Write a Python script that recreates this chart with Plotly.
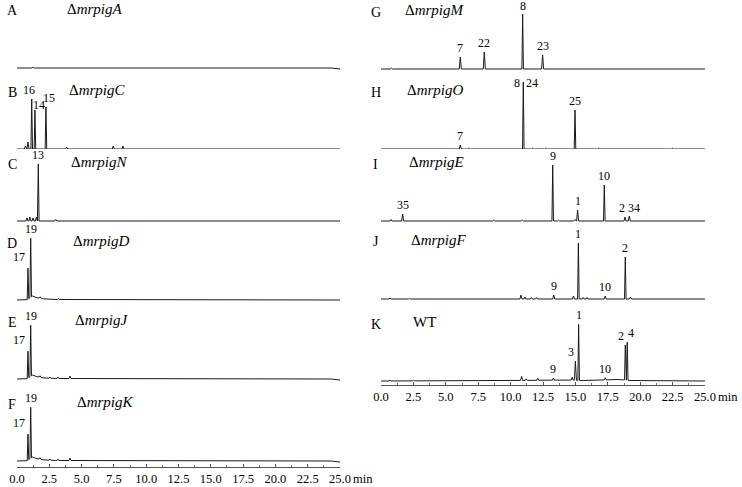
import plotly.graph_objects as go

W, H = 742, 487
FONT = "'Liberation Serif', 'Times New Roman', Times, serif"

# ---------------- data (retention time in min, relative height) ----------------
# left column
A_peaks_t = [1.25]
A_peaks_h = [1.0]
A_base = [(0, 0), (24.3, 0), (25, -1.0)]

B_peaks_t = [0.65, 0.85, 1.14, 1.39, 2.24, 3.85, 7.45, 8.2]
B_peaks_h = [3, 7, 50, 39, 42, 2, 3, 3]
B_base = [(0, 0), (25, 0)]
B_labels = {"16": 1.14, "14": 1.39, "15": 2.24}

C_peaks_t = [0.77, 1.0, 1.24, 1.5, 1.65, 3.0]
C_peaks_h = [3, 4, 3, 4, 57, 1.5]
C_base = [(0, 0), (25, 0)]
C_labels = {"13": 1.65}

D_peaks_t = [0.85, 1.06, 1.8, 3.2]
D_peaks_h = [31, 59, 1.5, 1.0]
D_base = [(0, 0), (0.75, 0), (1.2, 4), (1.5, 2.5), (2.0, 1.2), (3.0, 0.5), (25, 0)]
D_labels = {"17": 0.85, "19": 1.06}

E_peaks_t = [0.85, 1.06, 1.78, 2.55, 3.17, 4.1]
E_peaks_h = [27, 51, 1.5, 1.2, 1.5, 2.5]
E_base = [(0, 0), (0.75, 0), (1.2, 4), (1.5, 2.5), (2.0, 1.2), (3.0, 0.5), (24.3, 0), (25, -1.0)]
E_labels = {"17": 0.85, "19": 1.06}

F_peaks_t = [0.85, 1.06, 1.78, 2.55, 3.17, 4.1]
F_peaks_h = [26, 51, 1.5, 1.2, 1.5, 2.5]
F_base = [(0, 0), (0.75, 0), (1.2, 4), (1.5, 2.5), (2.0, 1.2), (3.0, 0.5), (24.3, 0), (25, -1.0)]
F_labels = {"17": 0.85, "19": 1.06}

# right column
G_peaks_t = [0.8, 6.12, 7.97, 10.93, 12.47]
G_peaks_h = [1, 12, 17, 55, 14]
G_base = [(0, 0), (25, 0)]
G_labels = {"7": 6.12, "22": 7.97, "8": 10.93, "23": 12.47}

H_peaks_t = [6.12, 6.77, 10.98, 11.7, 12.7, 14.97, 16.8, 22.5]
H_peaks_h = [4, 1, 67, 1, 1, 39, 1, 0.8]
H_base = [(0, 0), (25, 0)]
H_labels = {"7": 6.12, "8": 10.98, "24": 10.98, "25": 14.97}

I_peaks_t = [0.77, 1.67, 8.7, 10.9, 13.25, 13.7, 14.95, 15.17, 17.23, 18.83, 19.16]
I_peaks_h = [1.5, 7, 1, 1, 56, 1, 1.5, 11, 36, 4, 5]
I_base = [(0, 0), (25, 0)]
I_labels = {"35": 1.67, "9": 13.25, "1": 15.17, "10": 17.23, "2": 18.83, "34": 19.16}

J_peaks_t = [0.7, 2.2, 10.8, 11.1, 11.6, 12.0, 13.33, 14.85, 15.23, 15.6, 15.9, 17.3, 18.85, 19.25]
J_peaks_h = [0.8, 0.6, 4, 2, 1.5, 1.5, 4, 3, 56, 1.5, 1.5, 3, 42, 2]
J_base = [(0, 0), (25, 0)]
J_labels = {"9": 13.33, "1": 15.23, "10": 17.3, "2": 18.85}

K_peaks_t = [0.7, 2.5, 10.85, 11.2, 12.1, 13.3, 14.75, 15.0, 15.25, 17.3, 18.85, 19.0, 22.5]
K_peaks_h = [0.8, 0.6, 4, 1.5, 2, 2, 3, 19, 56, 2, 35, 38, 0.5]
K_base = [(0, 0), (10, 0.5), (14.5, 1), (15.6, 0.5), (18.3, 1.5), (19.3, 0.5), (25, 0)]
K_labels = {"9": 13.3, "3": 15.0, "1": 15.25, "10": 17.3, "2": 18.85, "4": 19.0}

tick_vals = [0, 2.5, 5, 7.5, 10, 12.5, 15, 17.5, 20, 22.5, 25]
tick_text = ["0.0", "2.5", "5.0", "7.5", "10.0", "12.5", "15.0", "17.5", "20.0", "22.5", "25.0"]

# ---------------- layout / styling ----------------
panels = [
    # letter, title, column, baseline px, peaks t, peaks h, base, labels
    ("A", "Δ<i>mrpigA</i>", 0, 68, A_peaks_t, A_peaks_h, A_base, {}),
    ("B", "Δ<i>mrpigC</i>", 0, 149, B_peaks_t, B_peaks_h, B_base, B_labels),
    ("C", "Δ<i>mrpigN</i>", 0, 221, C_peaks_t, C_peaks_h, C_base, C_labels),
    ("D", "Δ<i>mrpigD</i>", 0, 300, D_peaks_t, D_peaks_h, D_base, D_labels),
    ("E", "Δ<i>mrpigJ</i>", 0, 379, E_peaks_t, E_peaks_h, E_base, E_labels),
    ("F", "Δ<i>mrpigK</i>", 0, 461, F_peaks_t, F_peaks_h, F_base, F_labels),
    ("G", "Δ<i>mrpigM</i>", 1, 69, G_peaks_t, G_peaks_h, G_base, G_labels),
    ("H", "Δ<i>mrpigO</i>", 1, 149, H_peaks_t, H_peaks_h, H_base, H_labels),
    ("I", "Δ<i>mrpigE</i>", 1, 221, I_peaks_t, I_peaks_h, I_base, I_labels),
    ("J", "Δ<i>mrpigF</i>", 1, 299, J_peaks_t, J_peaks_h, J_base, J_labels),
    ("K", "WT", 1, 381, K_peaks_t, K_peaks_h, K_base, K_labels),
]

# label offsets (px): (xshift, yshift, xanchor)
label_style = {
    ("B", "16"): (-3, 0, "center"), ("B", "14"): (4, -4, "center"), ("B", "15"): (3, 0, "center"),
    ("D", "17"): (-1, 2, "right"), ("E", "17"): (-1, 2, "right"), ("F", "17"): (-1, 2, "right"),
    ("G", "8"): (0, -1, "center"),
    ("H", "8"): (-6, -10, "center"), ("H", "24"): (9, -10, "center"),
    ("I", "2"): (-3, 0, "center"), ("I", "34"): (5, -1, "center"),
    ("K", "3"): (-4, 0, "center"), ("K", "2"): (-4, 0, "center"), ("K", "4"): (4, 0, "center"),
}

col_x = [(17, 340), (381, 705)]          # pixel span for 0..25 min
col_letter_x = [12, 376]
col_title_x = [65, 403]
axis_y = [467, 385]


def px_x(p):
    return p / W


def px_y(p):
    return 1 - p / H


def base_at(base, t):
    for (t0, y0), (t1, y1) in zip(base[:-1], base[1:]):
        if t0 <= t <= t1:
            return y0 + (y1 - y0) * (t - t0) / (t1 - t0) if t1 > t0 else y0
    return base[-1][1]


def build_trace(pt, ph, base):
    widths = [0.06 if h > 20 else 0.08 for h in ph]
    ts = set(t for t, _ in base)
    for t, w in zip(pt, widths):
        ts.update([t - w, t, t + w])
    ts = sorted(x for x in ts if 0 <= x <= 25)
    ys = []
    for t in ts:
        y = base_at(base, t)
        for tp, hp, w in zip(pt, ph, widths):
            d = abs(t - tp)
            if d < w:
                y += hp * (1 - d / w)
        ys.append(y)
    return ts, ys


fig = go.Figure()
annotations = []
layout_axes = {}

for i, (letter, title, col, bl, pt, ph, base, labels) in enumerate(panels):
    k = i + 1
    yname = "yaxis" if k == 1 else f"yaxis{k}"
    yref = "y" if k == 1 else f"y{k}"
    xref = "x" if col == 0 else "x2"
    top_px = max(0, bl - 72)
    span = bl - top_px
    layout_axes[yname] = dict(
        domain=[px_y(bl + 3), px_y(top_px)],
        range=[-3, span], visible=False, fixedrange=True,
        anchor=xref,
    )
    ts, ys = build_trace(pt, ph, base)
    fig.add_trace(go.Scatter(
        x=ts, y=ys, mode="lines", xaxis=xref, yaxis=yref,
        line=dict(color="#1a1a1a", width=1), hoverinfo="skip", showlegend=False,
    ))
    # panel letter
    annotations.append(dict(
        x=px_x(col_letter_x[col]), y=px_y(bl - 57), xref="paper", yref="paper",
        text=letter, showarrow=False, xanchor="center", yanchor="middle",
        font=dict(family=FONT, size=14, color="black"),
    ))
    # panel title
    annotations.append(dict(
        x=px_x(col_title_x[col] + 2 * (i % 6 if col == 0 else (i - 6))), y=px_y(bl - 59),
        xref="paper", yref="paper",
        text=title, showarrow=False, xanchor="left", yanchor="middle",
        font=dict(family=FONT, size=15, color="black"),
    ))
    # peak labels
    for lab, t in labels.items():
        idx = pt.index(t)
        yv = base_at(base, t) + ph[idx]
        xs, yshift, xa = label_style.get((letter, lab), (0, 0, "center"))
        annotations.append(dict(
            x=t, y=yv, xref=xref, yref=yref, text=lab, showarrow=False,
            xanchor=xa, yanchor="bottom", xshift=xs, yshift=yshift,
            font=dict(family=FONT, size=12, color="black"),
        ))

for c in range(2):
    xname = "xaxis" if c == 0 else "xaxis2"
    layout_axes[xname] = dict(
        domain=[px_x(col_x[c][0]), px_x(col_x[c][1])],
        range=[0, 25], anchor="free", position=px_y(axis_y[c]),
        showline=True, linecolor="#555", linewidth=1,
        ticks="inside", ticklen=3, tickcolor="#555",
        tickvals=tick_vals, ticktext=tick_text,
        minor=dict(tickvals=[v + 1.25 for v in tick_vals[:-1]], ticks="inside", ticklen=2, tickcolor="#777"),
        showgrid=False, zeroline=False, fixedrange=True, automargin=False,
        tickfont=dict(family=FONT, size=12.5, color="black"),
    )
    annotations.append(dict(
        x=25, y=px_y(axis_y[c] + 3), xref="x" if c == 0 else "x2", yref="paper",
        text="min", showarrow=False, xanchor="left", yanchor="top", xshift=11,
        font=dict(family=FONT, size=12.5, color="black"),
    ))

fig.update_layout(
    width=W, height=H, margin=dict(l=0, r=0, t=0, b=0, pad=0, autoexpand=False),
    paper_bgcolor="white", plot_bgcolor="white",
    annotations=annotations, showlegend=False,
    **layout_axes,
)

fig.write_html("out.html", config={"displayModeBar": False},
               post_script="document.body.style.margin='0px';")
